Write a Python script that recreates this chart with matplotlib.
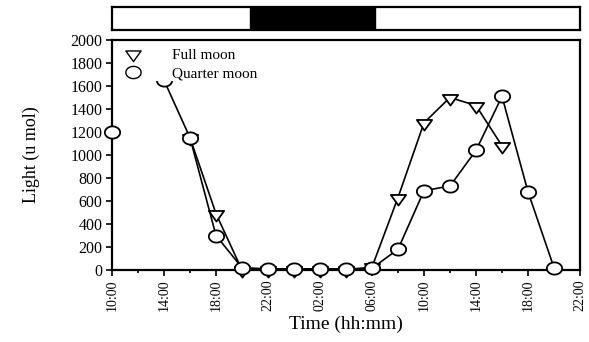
import numpy as np
import matplotlib
matplotlib.use("Agg")
import matplotlib.pyplot as plt
from matplotlib.path import Path

plt.rcParams['font.family'] = ['Liberation Serif', 'DejaVu Serif']

# Sampling times (hours elapsed since 10:00 on day one)
quarter_hours = [0, 2, 4, 6, 8, 10, 12, 14, 16, 18, 20, 22, 24, 26, 28, 30, 32, 34]
quarter_light = [1200, np.nan, 1650, 1150, 300, 20, 10, 10, 10, 10, 15, 180, 690, 730, 1040, 1510, 680, 20]

full_hours = [6, 8, 10, 12, 14, 16, 18, 20, 22, 24, 26, 28, 30]
full_light = [1150, 490, 0, 0, 0, 0, 0, 25, 630, 1280, 1500, 1430, 1080]

tick_hours = [0, 4, 8, 12, 16, 20, 24, 28, 32, 36]
tick_labels = ["10:00", "14:00", "18:00", "22:00", "02:00", "06:00",
               "10:00", "14:00", "18:00", "22:00"]

# Darkness period shown in the bar above the plot (sunset to sunrise)
dark_start, dark_end = 10.6, 20.2

# Slightly flattened symbols: an ellipse and a downward triangle inscribed in it
ry = 0.8
t = np.linspace(0, 2 * np.pi, 49)
ellipse = Path(np.column_stack([np.cos(t), ry * np.sin(t)]), closed=True)
tri_down = Path([(0, -ry), (-0.866, 0.5 * ry), (0.866, 0.5 * ry), (0, -ry)],
                [Path.MOVETO, Path.LINETO, Path.LINETO, Path.CLOSEPOLY])

fig = plt.figure(figsize=(5.89, 3.42), dpi=100)
ax = fig.add_axes([112/589, 1-270/342, 468/589, 230/342])
bar = fig.add_axes([112/589, 1-30/342, 468/589, 23/342])

lw = 1.2
ms = 11
ax.plot(full_hours, full_light, color='black', lw=lw, marker=tri_down,
        ms=ms, mfc='white', mec='black', mew=1.3, clip_on=False, zorder=3,
        label='Full moon')
ax.plot(quarter_hours, quarter_light, color='black', lw=lw, marker=ellipse,
        ms=ms, mfc='white', mec='black', mew=1.3, clip_on=False, zorder=4,
        label='Quarter moon')

ax.set_xlim(0, 36)
ax.set_ylim(0, 2000)
ax.set_yticks(np.arange(0, 2001, 200))
ax.set_xticks(tick_hours)
ax.set_xticklabels(tick_labels, rotation=90)
ax.set_xticks(np.arange(2, 36, 4), minor=True)
ax.tick_params(axis='both', which='major', direction='out', length=4,
               width=1.2, pad=3)
ax.tick_params(axis='y', labelsize=11.5)
ax.tick_params(axis='x', labelsize=10)
ax.tick_params(axis='x', which='minor', direction='out', length=2.5, width=1.2)
for s in ax.spines.values():
    s.set_linewidth(1.6)

ax.set_xlabel('Time (hh:mm)', fontsize=14, labelpad=3)
ax.set_ylabel('Light (u mol)', fontsize=13, labelpad=22)

h_full = plt.Line2D([], [], ls='none', marker=tri_down, ms=ms, mfc='white',
                    mec='black', mew=1.0)
h_quarter = plt.Line2D([], [], ls='none', marker=ellipse, ms=ms, mfc='white',
                       mec='black', mew=1.0)
leg = ax.legend([h_full, h_quarter], ['Full moon', 'Quarter moon'],
                loc='upper left', bbox_to_anchor=(0.008, 1.0), frameon=True,
                facecolor='white', edgecolor='none', framealpha=1,
                fontsize=11, handletextpad=1.9, labelspacing=0.3,
                borderpad=0.05, handlelength=1.2, fancybox=False)
leg.set_zorder(10)

bar.set_xlim(0, 36)
bar.set_ylim(0, 1)
bar.axvspan(dark_start, dark_end, color='black')
bar.set_xticks([])
bar.set_yticks([])
for s in bar.spines.values():
    s.set_linewidth(1.6)

fig.savefig('out.png', dpi=100)
